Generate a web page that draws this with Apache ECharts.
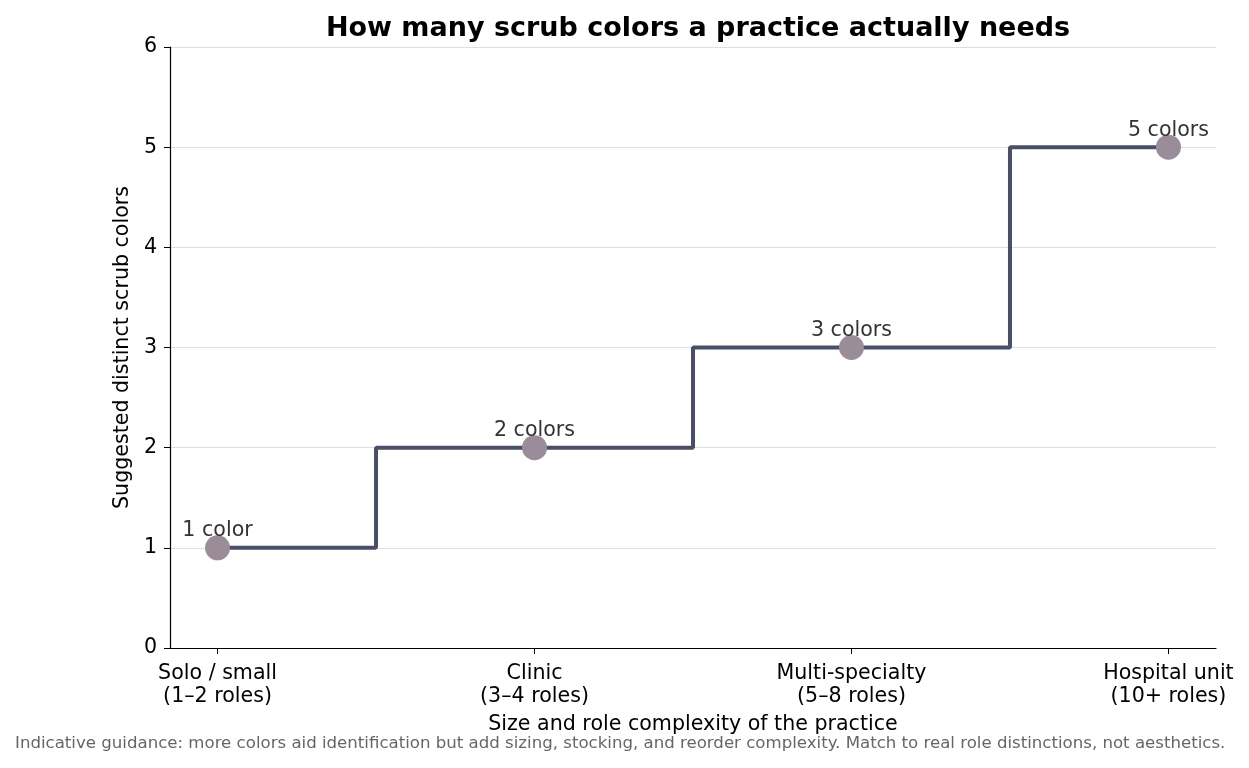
<!DOCTYPE html>
<html><head><meta charset="utf-8">
<script src="https://cdn.jsdelivr.net/npm/echarts@6/dist/echarts.min.js"></script>
<style>html,body{margin:0;padding:0;background:#fff}#c{width:1249px;height:768px}</style>
</head><body><div id="c"></div>
<script>
const categories = ["Solo / small\n(1–2 roles)", "Clinic\n(3–4 roles)", "Multi-specialty\n(5–8 roles)", "Hospital unit\n(10+ roles)"];
const colorsNeeded = [1, 2, 3, 5];
const pointLabels = ["1 color", "2 colors", "3 colors", "5 colors"];
const yTicks = [0, 1, 2, 3, 4, 5, 6];

const pts = colorsNeeded.map((v, i) => [i, v]);
const font = "DejaVu Sans";
const chart = echarts.init(document.getElementById('c'));
chart.setOption({
  animation: false,
  textStyle: {fontFamily: font},
  title: {text: "How many scrub colors a practice actually needs", left: 693, top: 10, textAlign: 'center',
    textStyle: {fontFamily: font, fontSize: 27, fontWeight: 'bold', color: '#000'}},
  graphic: [{type: 'text', left: 15, top: 735,
    style: {text: "Indicative guidance: more colors aid identification but add sizing, stocking, and reorder complexity. Match to real role distinctions, not aesthetics.",
      font: "16.6px DejaVu Sans", fill: '#666'}}],
  grid: {left: 170, right: 33, top: 47, bottom: 120},
  xAxis: {type: 'value', min: -0.15, max: 3.15,
    name: "Size and role complexity of the practice", nameLocation: 'middle', nameGap: 66,
    nameTextStyle: {fontFamily: font, fontSize: 20.6, color: '#000'},
    axisLine: {show: true, onZero: false, lineStyle: {color: '#000', width: 1.2}},
    axisTick: {show: true, customValues: [0, 1, 2, 3], length: 6, lineStyle: {color: '#000'}},
    axisLabel: {customValues: [0, 1, 2, 3], formatter: v => categories[Math.round(v)] || '',
      fontFamily: font, fontSize: 20.6, color: '#000', lineHeight: 23, margin: 14},
    splitLine: {show: false}},
  yAxis: {type: 'value', min: 0, max: 6, interval: 1,
    name: "Suggested distinct scrub colors", nameLocation: 'middle', nameGap: 37,
    nameTextStyle: {fontFamily: font, fontSize: 20.6, color: '#000'},
    axisLine: {show: true, onZero: false, lineStyle: {color: '#000', width: 1.2}},
    axisTick: {show: true, length: 6, lineStyle: {color: '#000'}},
    axisLabel: {fontFamily: font, fontSize: 20.6, color: '#000', margin: 13},
    splitLine: {show: true, lineStyle: {color: '#dedede', width: 1}}},
  series: [
    {type: 'line', data: pts, step: 'middle', showSymbol: false, z: 2,
      lineStyle: {color: '#4a4e69', width: 4}},
    {type: 'scatter', data: pts, symbolSize: 25, z: 3,
      itemStyle: {color: '#9a8c98', opacity: 1},
      label: {show: true, position: 'top', distance: 0, offset: [0, 6], formatter: p => pointLabels[p.dataIndex],
        fontFamily: font, fontSize: 20.6, color: '#333'}}
  ]
});
</script></body></html>
